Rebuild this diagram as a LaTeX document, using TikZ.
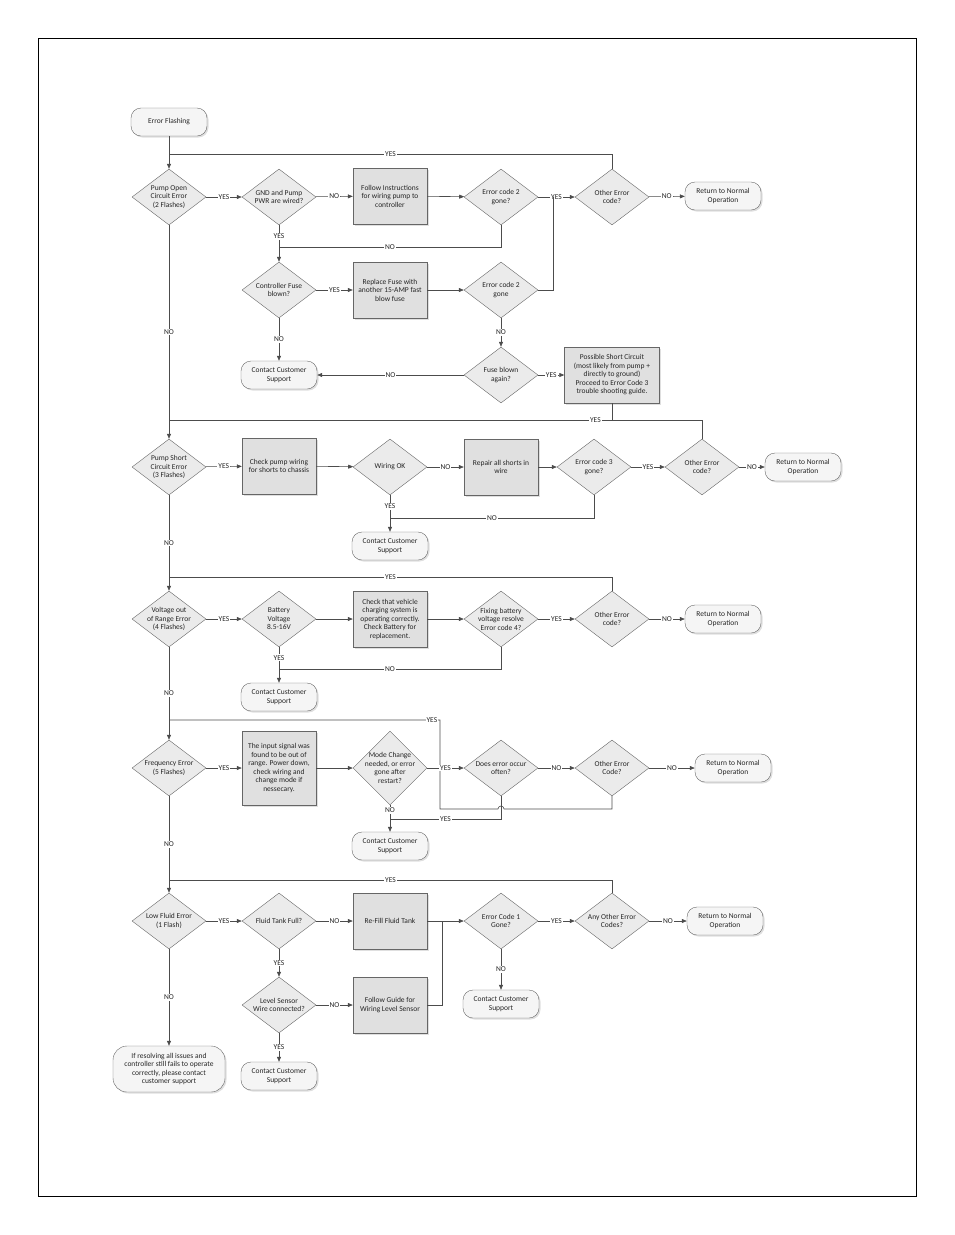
\documentclass[tikz,border=0pt]{standalone}
\usepackage{fontspec}
\setmainfont{Carlito}
\usetikzlibrary{shapes.geometric, arrows.meta, positioning, shadows}

\begin{document}
\begin{tikzpicture}[x=1pt, y=-1pt,
    txt/.style={font=\fontsize{7.5}{8.5}\selectfont, align=center, text=black!85},
    dia/.style={diamond, draw=black!60, fill=black!8, minimum width=74pt, minimum height=56pt, inner sep=0pt},
    tall/.style={dia, minimum height=74pt},
    stepbox/.style={txt, rectangle, draw=black!60, fill=black!12, minimum width=74pt, minimum height=56pt, inner sep=1pt,
        drop shadow={opacity=0.25, shadow xshift=1.5pt, shadow yshift=-1.5pt}},
    term/.style={txt, rectangle, rounded corners=10pt, draw=black!60, fill=black!4, minimum width=76pt, minimum height=28pt, inner sep=1pt,
        drop shadow={opacity=0.25, shadow xshift=1.5pt, shadow yshift=-1.5pt}},
    ln/.style={draw=black!70, line width=0.6pt},
    arr/.style={ln, -{Triangle[length=5pt, width=4pt]}},
    lab/.style={txt, fill=white, inner sep=1pt}
]
    \useasboundingbox (0,0) rectangle (954,1235);
    \draw[line width=0.8pt] (38,38) rectangle (916,1196);

    % Pump open circuit
    \node[term] (start) at (169,122) {Error Flashing};
    \node[dia, label={[txt]center:Pump Open\\Circuit Error\\(2 Flashes)}] (d1) at (169,197) {};
    \node[dia, label={[txt]center:GND and Pump\\PWR are wired?}] (d2) at (279,197) {};
    \node[stepbox] (b1) at (390,196) {Follow Instructions\\for wiring pump to\\controller};
    \node[dia, label={[txt]center:Error code 2\\gone?}] (d3) at (501,197) {};
    \node[dia, label={[txt]center:Other Error\\code?}] (d4) at (612,197) {};
    \node[term] (t1) at (723,196) {Return to Normal\\Operation};
    \node[dia, label={[txt]center:Controller Fuse\\blown?}] (d5) at (279,290) {};
    \node[stepbox] (b2) at (390,290) {Replace Fuse with\\another 15-AMP fast\\blow fuse};
    \node[dia, label={[txt]center:Error code 2\\gone}] (d6) at (501,290) {};
    \node[dia, label={[txt]center:Fuse blown\\again?}] (d7) at (501,375) {};
    \node[stepbox, minimum width=95pt] (b3) at (612,375) {Possible Short Circuit\\(most likely from pump +\\directly to ground)\\Proceed to Error Code 3\\trouble shooting guide.};
    \node[term] (t2) at (279,375) {Contact Customer\\Support};

    \coordinate (l1) at (169,154);
    \coordinate (m1) at (279,247);
    \coordinate (j1) at (553,197);
    \draw[arr] (start) -- (d1);
    \draw[ln] (d4.north) |- node[lab, pos=0.75]{YES} (l1);
    \draw[arr] (d1) -- node[lab]{YES} (d2);
    \draw[arr] (d2) -- node[lab]{NO} (b1);
    \draw[arr] (b1) -- (d3);
    \draw[arr] (d3) -- node[lab]{YES} (d4);
    \draw[arr] (d4) -- node[lab]{NO} (t1);
    \draw[arr] (d2) -- node[lab, pos=0.3]{YES} (d5);
    \draw[ln] (d3.south) |- node[lab, pos=0.75]{NO} (m1);
    \draw[arr] (d5) -- node[lab]{YES} (b2);
    \draw[arr] (b2) -- (d6);
    \draw[ln] (d6.east) -| (j1);
    \draw[arr] (d6) -- node[lab]{NO} (d7);
    \draw[arr] (d7) -- node[lab]{YES} (b3);
    \draw[arr] (d7) -- node[lab]{NO} (t2);
    \draw[arr] (d5) -- node[lab]{NO} (t2);

    % Pump short circuit
    \node[dia, label={[txt]center:Pump Short\\Circuit Error\\(3 Flashes)}] (e1) at (169,467) {};
    \node[stepbox] (c1) at (279,466) {Check pump wiring\\for shorts to chassis};
    \node[dia, label={[txt]center:Wiring OK}] (e2) at (390,467) {};
    \node[stepbox] (c2) at (501,467) {Repair all shorts in\\wire};
    \node[dia, label={[txt]center:Error code 3\\gone?}] (e3) at (594,467) {};
    \node[dia, label={[txt]center:Other Error\\code?}] (e4) at (702,467) {};
    \node[term] (u1) at (803,467) {Return to Normal\\Operation};
    \node[term] (u2) at (390,546) {Contact Customer\\Support};

    \coordinate (l2) at (169,420);
    \coordinate (k2) at (612,420);
    \coordinate (m2) at (390,518);
    \draw[arr] (d1) -- node[lab]{NO} (e1);
    \draw[ln] (e4.north) |- node[lab, pos=0.6]{YES} (l2);
    \draw[ln] (b3.south) -- (k2);
    \draw[arr] (e1) -- node[lab]{YES} (c1);
    \draw[arr] (c1) -- (e2);
    \draw[arr] (e2) -- node[lab]{NO} (c2);
    \draw[arr] (c2) -- (e3);
    \draw[arr] (e3) -- node[lab]{YES} (e4);
    \draw[arr] (e4) -- node[lab]{NO} (u1);
    \draw[arr] (e2) -- node[lab, pos=0.3]{YES} (u2);
    \draw[ln] (e3.south) |- node[lab, pos=0.75]{NO} (m2);

    % Voltage out of range
    \node[dia, label={[txt]center:Voltage out\\of Range Error\\(4 Flashes)}] (f1) at (169,619) {};
    \node[dia, label={[txt]center:Battery\\Voltage\\8.5-16V}] (f2) at (279,619) {};
    \node[stepbox] (g1) at (390,619) {Check that vehicle\\charging system is\\operating correctly.\\Check Battery for\\replacement.};
    \node[dia, label={[txt]center:Fixing battery\\voltage resolve\\Error code 4?}] (f3) at (501,619) {};
    \node[dia, label={[txt]center:Other Error\\code?}] (f4) at (612,619) {};
    \node[term] (v1) at (723,619) {Return to Normal\\Operation};
    \node[term] (v2) at (279,697) {Contact Customer\\Support};

    \coordinate (l3) at (169,577);
    \coordinate (m3) at (279,669);
    \draw[arr] (e1) -- node[lab]{NO} (f1);
    \draw[ln] (f4.north) |- node[lab, pos=0.75]{YES} (l3);
    \draw[arr] (f1) -- node[lab]{YES} (f2);
    \draw[arr] (f2) -- (g1);
    \draw[arr] (g1) -- (f3);
    \draw[arr] (f3) -- node[lab]{YES} (f4);
    \draw[arr] (f4) -- node[lab]{NO} (v1);
    \draw[arr] (f2) -- node[lab, pos=0.3]{YES} (v2);
    \draw[ln] (f3.south) |- node[lab, pos=0.75]{NO} (m3);

    % Frequency error
    \node[dia, label={[txt]center:Frequency Error\\(5 Flashes)}] (h1) at (169,768) {};
    \node[stepbox, minimum height=74pt] (i1) at (279,768) {The input signal was\\found to be out of\\range. Power down,\\check wiring and\\change mode if\\nessecary.};
    \node[tall, label={[txt]center:Mode Change\\needed, or error\\gone after\\restart?}] (h2) at (390,768) {};
    \node[dia, label={[txt]center:Does error occur\\often?}] (h3) at (501,768) {};
    \node[dia, label={[txt]center:Other Error\\Code?}] (h4) at (612,768) {};
    \node[term] (w1) at (733,768) {Return to Normal\\Operation};
    \node[term] (w2) at (390,846) {Contact Customer\\Support};

    \coordinate (l4) at (169,720);
    \coordinate (m4) at (390,819);
    \draw[arr] (f1) -- node[lab]{NO} (h1);
    \draw[ln] (h4.south) -- (612,809) -- (504,809) arc[start angle=0, end angle=-180, radius=3] -- (440,809) -- (440,720)
        -- node[lab, pos=0.03]{YES} (l4);
    \draw[arr] (h1) -- node[lab]{YES} (i1);
    \draw[arr] (i1) -- (h2);
    \draw[arr] (h2) -- node[lab]{YES} (h3);
    \draw[arr] (h3) -- node[lab]{NO} (h4);
    \draw[arr] (h4) -- node[lab]{NO} (w1);
    \draw[arr] (h2) -- node[lab, pos=0.2]{NO} (w2);
    \draw[ln] (h3.south) |- node[lab, pos=0.75]{YES} (m4);

    % Low fluid
    \node[dia, label={[txt]center:Low Fluid Error\\(1 Flash)}] (p1) at (169,921) {};
    \node[dia, label={[txt]center:Fluid Tank Full?}] (p2) at (279,921) {};
    \node[stepbox] (q1) at (390,921) {Re-Fill Fluid Tank};
    \node[dia, label={[txt]center:Error Code 1\\Gone?}] (p3) at (501,921) {};
    \node[dia, label={[txt]center:Any Other Error\\Codes?}] (p4) at (612,921) {};
    \node[term] (x1) at (725,921) {Return to Normal\\Operation};
    \node[dia, label={[txt]center:Level Sensor\\Wire connected?}] (p5) at (279,1005) {};
    \node[stepbox] (q2) at (390,1005) {Follow Guide for\\Wiring Level Sensor};
    \node[term] (x2) at (501,1004) {Contact Customer\\Support};
    \node[term] (x3) at (279,1076) {Contact Customer\\Support};
    \node[term, minimum width=112pt, minimum height=46pt, rounded corners=14pt] (x4) at (169,1069) {If resolving all issues and\\controller still fails to operate\\correctly, please contact\\customer support};

    \coordinate (l5) at (169,880);
    \coordinate (j5) at (442,921);
    \draw[arr] (h1) -- node[lab]{NO} (p1);
    \draw[ln] (p4.north) |- node[lab, pos=0.75]{YES} (l5);
    \draw[arr] (p1) -- node[lab]{YES} (p2);
    \draw[arr] (p2) -- node[lab]{NO} (q1);
    \draw[arr] (q1) -- (p3);
    \draw[ln] (q2.east) -| (j5);
    \draw[arr] (p3) -- node[lab]{YES} (p4);
    \draw[arr] (p4) -- node[lab]{NO} (x1);
    \draw[arr] (p2) -- node[lab]{YES} (p5);
    \draw[arr] (p5) -- node[lab]{NO} (q2);
    \draw[arr] (p5) -- node[lab]{YES} (x3);
    \draw[arr] (p3) -- node[lab]{NO} (x2);
    \draw[arr] (p1) -- node[lab]{NO} (x4);
\end{tikzpicture}
\end{document}
